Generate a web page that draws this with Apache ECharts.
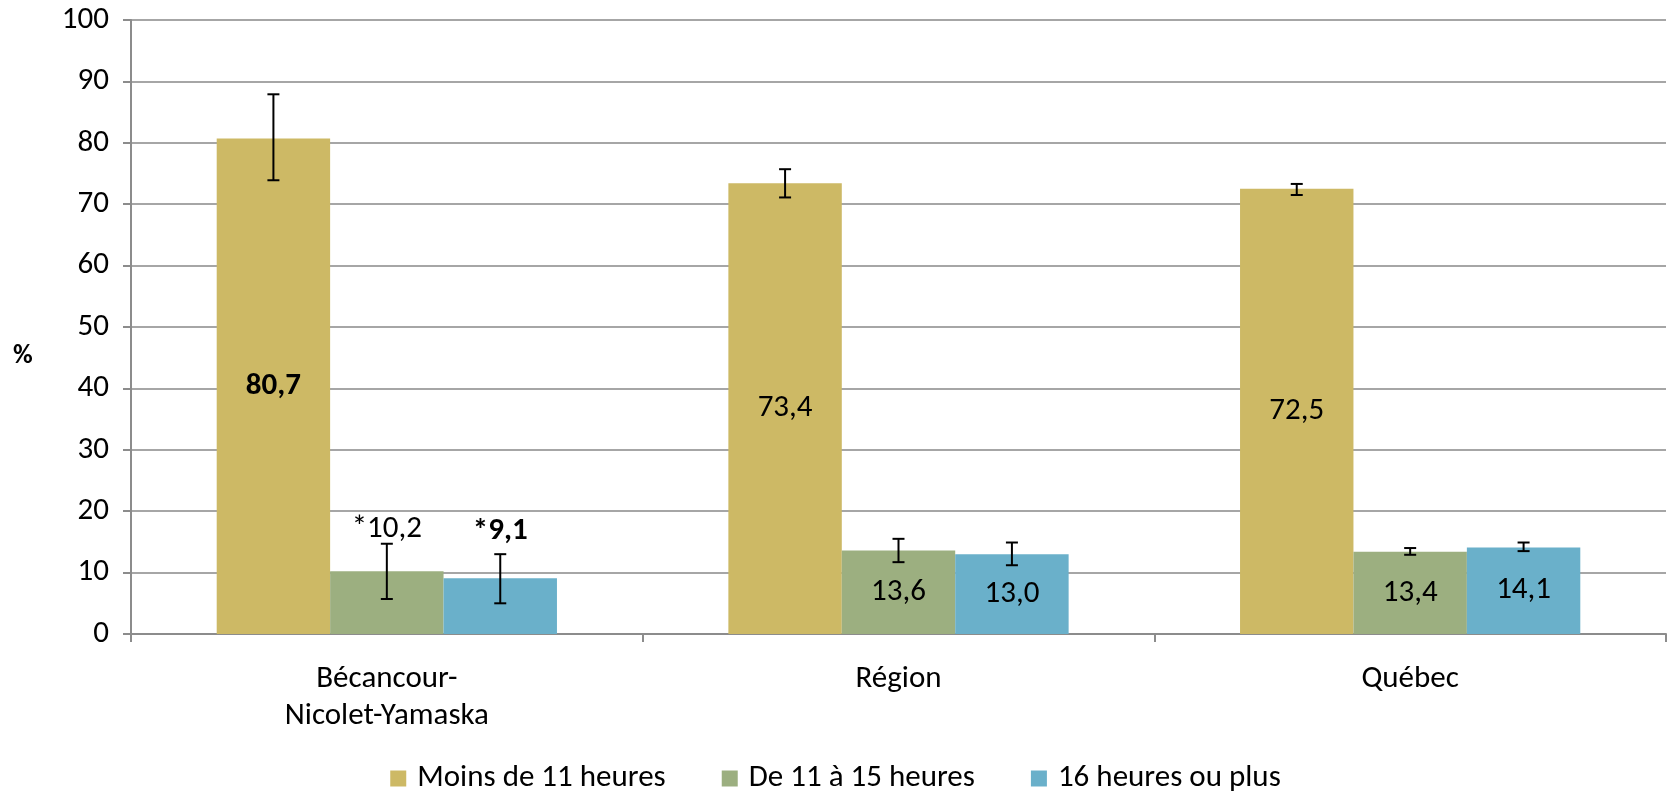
<!DOCTYPE html>
<html>
<head>
<meta charset="utf-8">
<script src="https://cdn.jsdelivr.net/npm/echarts@6/dist/echarts.min.js"></script>
<style>
  html, body { margin: 0; padding: 0; background: #fff; }
  #chart { width: 1671px; height: 792px; }
</style>
</head>
<body>
<div id="chart"></div>
<script>
const FONT = 'Carlito, Lato, sans-serif';

const categories = ['Bécancour-\nNicolet-Yamaska', 'Région', 'Québec'];
const seriesNames = ['Moins de 11 heures', 'De 11 à 15 heures', '16 heures ou plus'];
const colors = ['#CDB965', '#9CAF80', '#6AB0CA'];

// percentages
const moins11 = [80.7, 73.4, 72.5];
const de11a15 = [10.2, 13.6, 13.4];
const plus16 = [9.1, 13.0, 14.1];

// confidence intervals (low / high)
const moins11Low = [73.9, 71.1, 71.5];
const moins11High = [87.9, 75.7, 73.3];
const de11a15Low = [5.7, 11.7, 12.9];
const de11a15High = [14.7, 15.5, 14.0];
const plus16Low = [5.0, 11.2, 13.5];
const plus16High = [13.0, 14.9, 14.9];

// label text, bold flag, label above the bar
const moins11Text = ['80,7', '73,4', '72,5'];
const de11a15Text = ['*10,2', '13,6', '13,4'];
const plus16Text = ['*9,1', '13,0', '14,1'];
const moins11Bold = [true, false, false];
const de11a15Bold = [false, false, false];
const plus16Bold = [true, false, false];
const aboveBar = [true, false, false];

const yTicks = [0, 10, 20, 30, 40, 50, 60, 70, 80, 90, 100];

const CAT_GAP = 0.335;
const FS = 31;
const seriesValues = [moins11, de11a15, plus16];
const seriesLow = [moins11Low, de11a15Low, plus16Low];
const seriesHigh = [moins11High, de11a15High, plus16High];
const seriesText = [moins11Text, de11a15Text, plus16Text];
const seriesBold = [moins11Bold, de11a15Bold, plus16Bold];

function barSeries(idx) {
  return {
    name: seriesNames[idx],
    type: 'bar',
    barGap: 0,
    barCategoryGap: (CAT_GAP * 100) + '%',
    itemStyle: { color: colors[idx] },
    data: seriesValues[idx].map((v, i) => {
      const above = idx > 0 && aboveBar[i];
      return {
        value: v,
        label: {
          show: true,
          position: above ? 'top' : 'inside',
          distance: above ? (idx === 1 ? 27 : 31) : 5,
          formatter: seriesText[idx][i],
          fontWeight: seriesBold[idx][i] ? 'bold' : 'normal',
          fontSize: FS,
          fontFamily: FONT,
          color: '#000'
        }
      };
    }),
    z: 2
  };
}

function errorSeries(idx) {
  return {
    type: 'custom',
    name: seriesNames[idx] + ' IC',
    z: 5,
    silent: true,
    data: seriesLow[idx].map((lo, i) => [i, lo, seriesHigh[idx][i]]),
    renderItem: function (params, api) {
      const cat = api.value(0);
      const band = api.size([1, 0])[0];
      const barW = band * (1 - CAT_GAP) / 3;
      const offset = (idx - 1) * barW;
      const lo = api.coord([cat, api.value(1)]);
      const hi = api.coord([cat, api.value(2)]);
      const x = lo[0] + offset;
      const cap = 6;
      const style = { stroke: '#000', lineWidth: 2 };
      return {
        type: 'group',
        children: [
          { type: 'line', shape: { x1: x, y1: lo[1], x2: x, y2: hi[1] }, style: style },
          { type: 'line', shape: { x1: x - cap, y1: lo[1], x2: x + cap, y2: lo[1] }, style: style },
          { type: 'line', shape: { x1: x - cap, y1: hi[1], x2: x + cap, y2: hi[1] }, style: style }
        ]
      };
    }
  };
}

const chart = echarts.init(document.getElementById('chart'));
chart.setOption({
  animation: false,
  textStyle: { fontFamily: FONT },
  grid: { left: 131, right: 5, top: 20, bottom: 158 },
  legend: {
    data: seriesNames,
    top: 758,
    left: 'center',
    itemWidth: 16,
    itemHeight: 16,
    itemGap: 56,
    icon: 'rect',
    textStyle: { fontSize: FS, fontFamily: FONT, color: '#000', padding: [0, 0, 0, 6] }
  },
  graphic: [{
    type: 'text',
    left: 13,
    top: 343,
    style: { text: '%', font: 'bold 27px ' + FONT, fill: '#000' }
  }],
  xAxis: {
    type: 'category',
    data: categories,
    axisLine: { lineStyle: { color: '#8c8c8c', width: 2 } },
    axisTick: { show: true, length: 8, lineStyle: { color: '#8c8c8c', width: 2 } },
    axisLabel: { fontSize: FS, fontFamily: FONT, color: '#000', margin: 27, lineHeight: 37 }
  },
  yAxis: {
    type: 'value',
    min: yTicks[0],
    max: yTicks[yTicks.length - 1],
    interval: 10,
    axisLine: { show: true, lineStyle: { color: '#8c8c8c', width: 2 } },
    axisTick: { show: true, length: 8, lineStyle: { color: '#8c8c8c', width: 2 } },
    splitLine: { lineStyle: { color: '#a6a6a6', width: 2 } },
    axisLabel: { fontSize: FS, fontFamily: FONT, color: '#000', margin: 22 }
  },
  series: [barSeries(0), barSeries(1), barSeries(2), errorSeries(0), errorSeries(1), errorSeries(2)]
});
</script>
</body>
</html>
